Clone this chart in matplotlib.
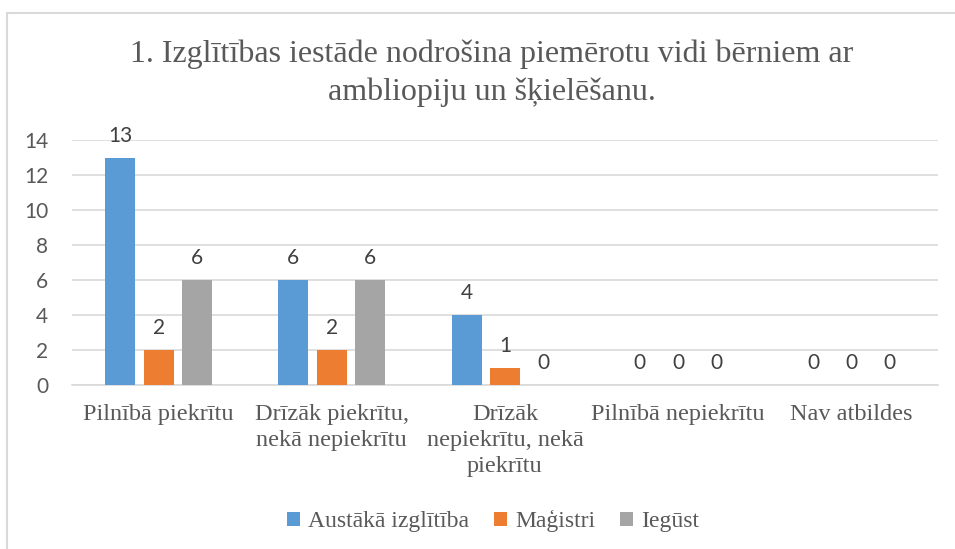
import matplotlib
matplotlib.use("Agg")
import matplotlib.pyplot as plt
from matplotlib.patches import Rectangle
import numpy as np

categories = ["Pilnībā piekrītu", "Drīzāk piekrītu,\nnekā nepiekrītu",
              "Drīzāk\nnepiekrītu, nekā\npiekrītu", "Pilnībā nepiekrītu", "Nav atbildes"]
series_names = ["Austākā izglītība", "Maģistri", "Iegūst"]
aust = [13, 6, 4, 0, 0]
magistri = [2, 2, 1, 0, 0]
iegust = [6, 6, 0, 0, 0]
title = "1. Izglītības iestāde nodrošina piemērotu vidi bērniem ar\nambliopiju un šķielēšanu."
yticks = [0, 2, 4, 6, 8, 10, 12, 14]

colors = ["#5B9BD5", "#ED7D31", "#A5A5A5"]
txt = "#595959"
serif = ["Liberation Serif", "DejaVu Serif"]
sans = ["Lato", "DejaVu Sans"]

W, H = 955, 549
fig = plt.figure(figsize=(W / 100, H / 100), dpi=100)
fig.patch.set_facecolor("white")

# chart frame
fig.patches.append(Rectangle((7 / W, -0.1), 1.2, 1 - 13 / H + 0.1, transform=fig.transFigure,
                             fill=False, edgecolor="#D9D9D9", linewidth=1.5))

ax = fig.add_axes([72 / W, 1 - 385 / H, (938 - 72) / W, (385 - 140) / H])
x = np.arange(len(categories))
bw = 0.173
off = 0.222
for i, (vals, c) in enumerate(zip([aust, magistri, iegust], colors)):
    pos = x + (i - 1) * off
    ax.bar(pos, vals, width=bw, color=c, label=series_names[i], zorder=3)
    for p, v in zip(pos, vals):
        ax.annotate(str(v), (p, v), xytext=(0, 8.5), textcoords="offset points",
                    ha="center", va="bottom", fontsize=15, color="#404040", family=sans)

ax.set_xlim(-0.5, len(categories) - 0.5)
ax.set_ylim(0, 14)
ax.set_yticks(yticks)
ax.yaxis.grid(True, color="#D9D9D9", linewidth=1.2, zorder=0)
ax.set_axisbelow(True)
for s in ["top", "right", "left"]:
    ax.spines[s].set_visible(False)
ax.spines["bottom"].set_color("#D9D9D9")
ax.spines["bottom"].set_linewidth(1.2)
ax.tick_params(axis="both", length=0)
ax.tick_params(axis="y", pad=17)
ax.tick_params(axis="x", pad=14)
ax.set_xticks(x)
ax.set_xticklabels(categories, fontsize=17.5, color=txt, family=serif, linespacing=1.3)
for lab in ax.get_yticklabels():
    lab.set_fontsize(15)
    lab.set_color(txt)
    lab.set_family(sans)
    lab.set_horizontalalignment("right")

fig.text(492 / W, 1 - 73 / H, title, ha="center", va="center", fontsize=23,
         color=txt, family=serif, linespacing=1.38)

leg = fig.legend(loc="center", bbox_to_anchor=(493 / W, 1 - 521 / H), ncol=3, frameon=False,
                 prop={"family": serif, "size": 17}, handlelength=0.55, handleheight=0.55,
                 handletextpad=0.35, columnspacing=1.05)
for t in leg.get_texts():
    t.set_color(txt)

fig.savefig("out.png", dpi=100, facecolor="white")
